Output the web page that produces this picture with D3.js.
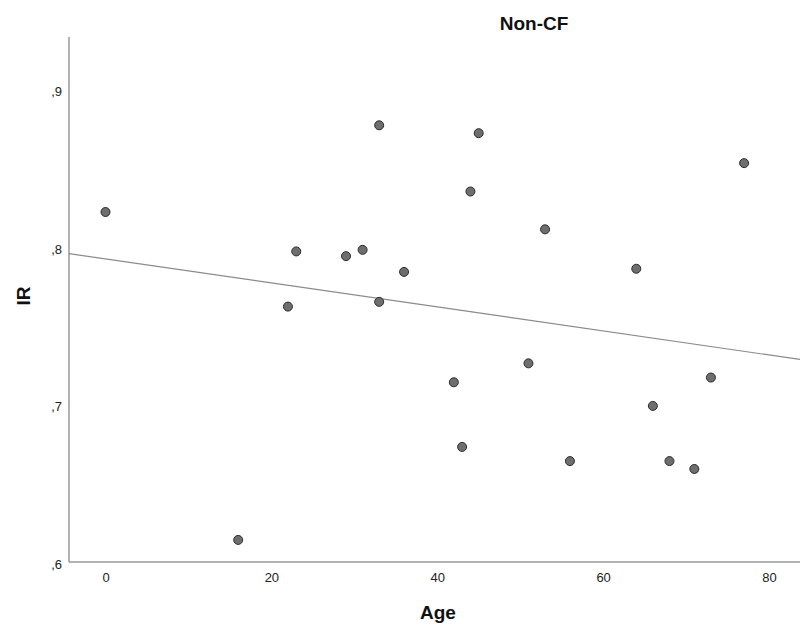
<!DOCTYPE html>
<html>
<head>
<meta charset="utf-8">
<script src="https://cdn.jsdelivr.net/npm/d3@7"></script>
<style>
  body { margin: 0; background: #fff; }
  svg { display: block; font-family: "Liberation Sans", Arial, sans-serif; }
</style>
</head>
<body>
<div id="chart"></div>
<script>
// Non-CF: Age vs IR
const ages = [0, 16, 22, 23, 29, 31, 33, 33, 36, 42, 43, 44, 45, 51, 53, 56, 64, 66, 68, 71, 73, 77];
const irValues = [0.822, 0.614, 0.762, 0.797, 0.794, 0.798, 0.877, 0.765, 0.784, 0.714, 0.673,
                  0.835, 0.872, 0.726, 0.811, 0.664, 0.786, 0.699, 0.664, 0.659, 0.717, 0.853];
const xTicks = [0, 20, 40, 60, 80];
const yTicks = [0.6, 0.7, 0.8, 0.9];

const W = 800, H = 628;
const plotLeft = 69, plotRight = 800, plotTop = 37, plotBottom = 562;

const svg = d3.select('#chart').append('svg')
    .attr('width', W)
    .attr('height', H);

const x = d3.scaleLinear().domain([-4.4, 83.74]).range([plotLeft, plotRight]);
const y = d3.scaleLinear().domain([0.6, 0.933]).range([plotBottom, plotTop]);

// Axes (no tick marks, just labels)
const xAxis = svg.append('g')
    .attr('transform', `translate(0,${plotBottom})`)
    .call(d3.axisBottom(x).tickValues(xTicks).tickSize(0).tickPadding(11).tickFormat(d3.format('d')));
xAxis.select('.domain').remove();
xAxis.selectAll('text').attr('font-size', 13).attr('fill', '#222').attr('font-family', '"Liberation Sans", Arial, sans-serif');

const yAxis = svg.append('g')
    .attr('transform', `translate(${plotLeft},0)`)
    .call(d3.axisLeft(y).tickValues(yTicks).tickSize(0).tickPadding(7)
        .tickFormat(d => ',' + Math.round(d * 10)));
yAxis.select('.domain').remove();
yAxis.selectAll('text').attr('font-size', 13).attr('fill', '#222').attr('dy', '0.5em')
    .attr('font-family', '"Liberation Sans", Arial, sans-serif');

// Axis lines
svg.append('line')
    .attr('x1', plotLeft).attr('x2', plotLeft)
    .attr('y1', plotTop).attr('y2', plotBottom)
    .attr('stroke', '#999').attr('stroke-width', 1.5);
svg.append('line')
    .attr('x1', plotLeft).attr('x2', plotRight)
    .attr('y1', plotBottom).attr('y2', plotBottom)
    .attr('stroke', '#999').attr('stroke-width', 1.5);

// Least squares fit line
const pts = ages.map((a, i) => [a, irValues[i]]);
const mx = d3.mean(ages), my = d3.mean(irValues);
const slope = d3.sum(pts, p => (p[0] - mx) * (p[1] - my)) / d3.sum(pts, p => (p[0] - mx) ** 2);
const icpt = my - slope * mx;
const [x0, x1] = x.domain();

svg.append('line')
    .attr('x1', x(x0)).attr('y1', y(icpt + slope * x0))
    .attr('x2', x(x1)).attr('y2', y(icpt + slope * x1))
    .attr('stroke', '#8a8a8a').attr('stroke-width', 1.2);

// Points
svg.append('g').selectAll('circle')
    .data(pts)
    .join('circle')
    .attr('cx', d => x(d[0]))
    .attr('cy', d => y(d[1]))
    .attr('r', 4.5)
    .attr('fill', '#6e6e6e')
    .attr('stroke', '#2b2b2b')
    .attr('stroke-width', 1);

// Titles
svg.append('text')
    .attr('x', 534).attr('y', 30)
    .attr('text-anchor', 'middle')
    .attr('font-size', 19).attr('font-weight', 'bold').attr('fill', '#111')
    .text('Non-CF');

svg.append('text')
    .attr('x', 438).attr('y', 619)
    .attr('text-anchor', 'middle')
    .attr('font-size', 19).attr('font-weight', 'bold').attr('fill', '#111')
    .text('Age');

svg.append('text')
    .attr('transform', 'translate(30,296) rotate(-90)')
    .attr('text-anchor', 'middle')
    .attr('font-size', 19).attr('font-weight', 'bold').attr('fill', '#111')
    .text('IR');
</script>
</body>
</html>
